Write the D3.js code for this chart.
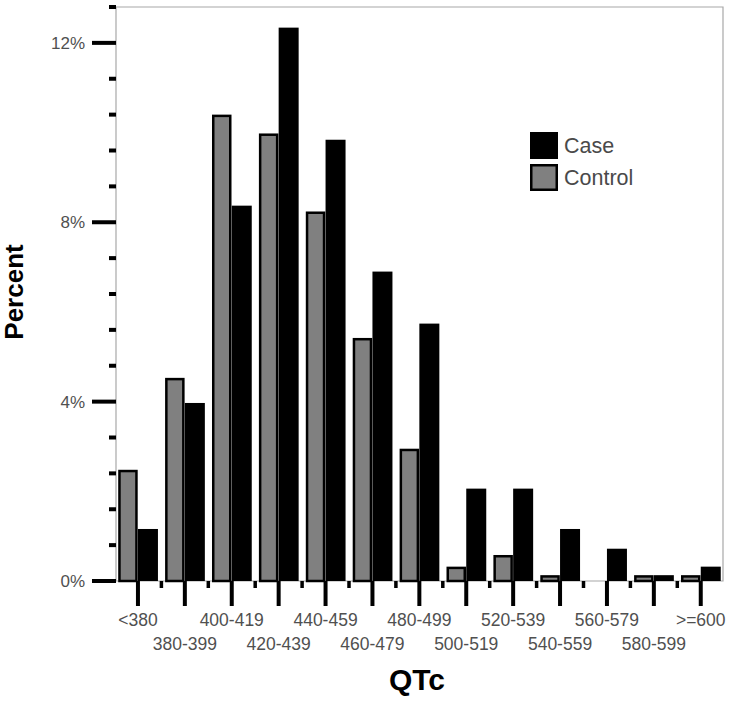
<!DOCTYPE html>
<html>
<head>
<meta charset="utf-8">
<script src="https://cdn.jsdelivr.net/npm/d3@7"></script>
<style>
  body { margin: 0; background: #fff; }
  svg { display: block; font-family: "Liberation Sans", Arial, sans-serif; }
</style>
</head>
<body>
<div id="chart"></div>
<script>
const categories = ['<380', '380-399', '400-419', '420-439', '440-459', '460-479', '480-499',
  '500-519', '520-539', '540-559', '560-579', '580-599', '>=600'];
const series = ['Control', 'Case'];
const controlValues = [2.48, 4.53, 10.4, 9.98, 8.24, 5.42, 2.95, 0.32, 0.58, 0.13, 0, 0.13, 0.13];
const caseValues = [1.16, 3.97, 8.37, 12.34, 9.84, 6.9, 5.74, 2.06, 2.06, 1.16, 0.72, 0.13, 0.32];
const yTicks = [0, 0.8, 1.6, 2.4, 3.2, 4, 4.8, 5.6, 6.4, 7.2, 8, 8.8, 9.6, 10.4, 11.2, 12, 12.8];
const yMajor = [0, 4, 8, 12];

const width = 730, height = 701;
const plot = { left: 116, right: 723, top: 7, bottom: 581 };

const svg = d3.select('#chart').append('svg')
  .attr('width', width)
  .attr('height', height);

const x = d3.scaleBand()
  .domain(categories)
  .range([114.5, 724.2]);

const xSub = d3.scaleBand()
  .domain(series)
  .range([-20, 20]);

const y = d3.scaleLinear()
  .domain([0, 12.8])
  .range([plot.bottom, plot.top]);

const fills = { Control: '#808080', Case: '#000' };
const values = { Control: controlValues, Case: caseValues };

// plot frame (thin grey)
svg.append('path')
  .attr('d', `M${plot.left},${plot.bottom}V${plot.top}H${plot.right}V${plot.bottom}H${plot.left}`)
  .attr('fill', 'none')
  .attr('stroke', '#a8a8a8')
  .attr('stroke-width', 1.2);

// bars
const groups = svg.selectAll('.group')
  .data(categories)
  .enter()
  .append('g')
  .attr('class', 'group')
  .attr('transform', (d) => `translate(${x(d) + x.bandwidth() / 2},0)`);

series.forEach((s) => {
  groups.filter((d, i) => values[s][i] > 0)
    .append('rect')
    .attr('x', s === 'Control' ? xSub(s) + 1.5 : xSub(s))
    .attr('width', s === 'Control' ? xSub.bandwidth() - 3 : xSub.bandwidth())
    .attr('y', (d) => y(values[s][categories.indexOf(d)]) + (s === 'Control' ? 1.25 : 0))
    .attr('height', (d) => {
      const h = y(0) - y(values[s][categories.indexOf(d)]);
      return s === 'Control' ? Math.max(h - 1.25, 0.5) : h;
    })
    .attr('fill', fills[s])
    .attr('stroke', s === 'Control' ? '#000' : 'none')
    .attr('stroke-width', 2.5);
});

// y ticks
svg.selectAll('.ytick')
  .data(yTicks)
  .enter()
  .append('line')
  .attr('x1', (d) => yMajor.includes(d) ? 92 : 109)
  .attr('x2', plot.left)
  .attr('y1', (d) => y(d))
  .attr('y2', (d) => y(d))
  .attr('stroke', '#000')
  .attr('stroke-width', 4);

svg.selectAll('.ylabel')
  .data(yMajor)
  .enter()
  .append('text')
  .attr('x', 85)
  .attr('y', (d) => y(d))
  .attr('dy', '0.36em')
  .attr('text-anchor', 'end')
  .attr('font-size', 17)
  .attr('fill', '#505050')
  .text((d) => `${d}%`);

// x ticks: long at category centres, short at boundaries
svg.selectAll('.xtick')
  .data(categories)
  .enter()
  .append('line')
  .attr('x1', (d) => x(d) + x.bandwidth() / 2)
  .attr('x2', (d) => x(d) + x.bandwidth() / 2)
  .attr('y1', plot.bottom)
  .attr('y2', 606)
  .attr('stroke', '#000')
  .attr('stroke-width', 4);

svg.selectAll('.xminor')
  .data(categories.slice(1))
  .enter()
  .append('line')
  .attr('x1', (d) => x(d))
  .attr('x2', (d) => x(d))
  .attr('y1', plot.bottom)
  .attr('y2', 588)
  .attr('stroke', '#000')
  .attr('stroke-width', 3.5);

svg.selectAll('.xlabel')
  .data(categories)
  .enter()
  .append('text')
  .attr('x', (d) => x(d) + x.bandwidth() / 2)
  .attr('y', (d, i) => i % 2 === 0 ? 626 : 650)
  .attr('text-anchor', 'middle')
  .attr('font-size', 17.5)
  .attr('fill', '#505050')
  .text((d) => d);

// axis titles
svg.append('text')
  .attr('x', 417)
  .attr('y', 690)
  .attr('text-anchor', 'middle')
  .attr('font-size', 30)
  .attr('font-weight', 'bold')
  .text('QTc');

svg.append('text')
  .attr('transform', 'translate(23,292) rotate(-90)')
  .attr('text-anchor', 'middle')
  .attr('font-size', 26)
  .attr('font-weight', 'bold')
  .text('Percent');

// legend
const legend = svg.append('g')
  .attr('transform', 'translate(530,132)');

const legendItems = ['Case', 'Control'];
legendItems.forEach((s, i) => {
  const g = legend.append('g').attr('transform', `translate(0,${i * 32})`);
  g.append('rect')
    .attr('x', s === 'Control' ? 1.25 : 0)
    .attr('y', s === 'Control' ? 1.25 : 0)
    .attr('width', s === 'Control' ? 25.5 : 28)
    .attr('height', s === 'Control' ? 24.5 : 27)
    .attr('fill', fills[s])
    .attr('stroke', s === 'Control' ? '#000' : 'none')
    .attr('stroke-width', 2.5);
  g.append('text')
    .attr('x', 34)
    .attr('y', 21)
    .attr('font-size', 21.5)
    .attr('fill', '#4a4a4a')
    .text(s);
});
</script>
</body>
</html>
